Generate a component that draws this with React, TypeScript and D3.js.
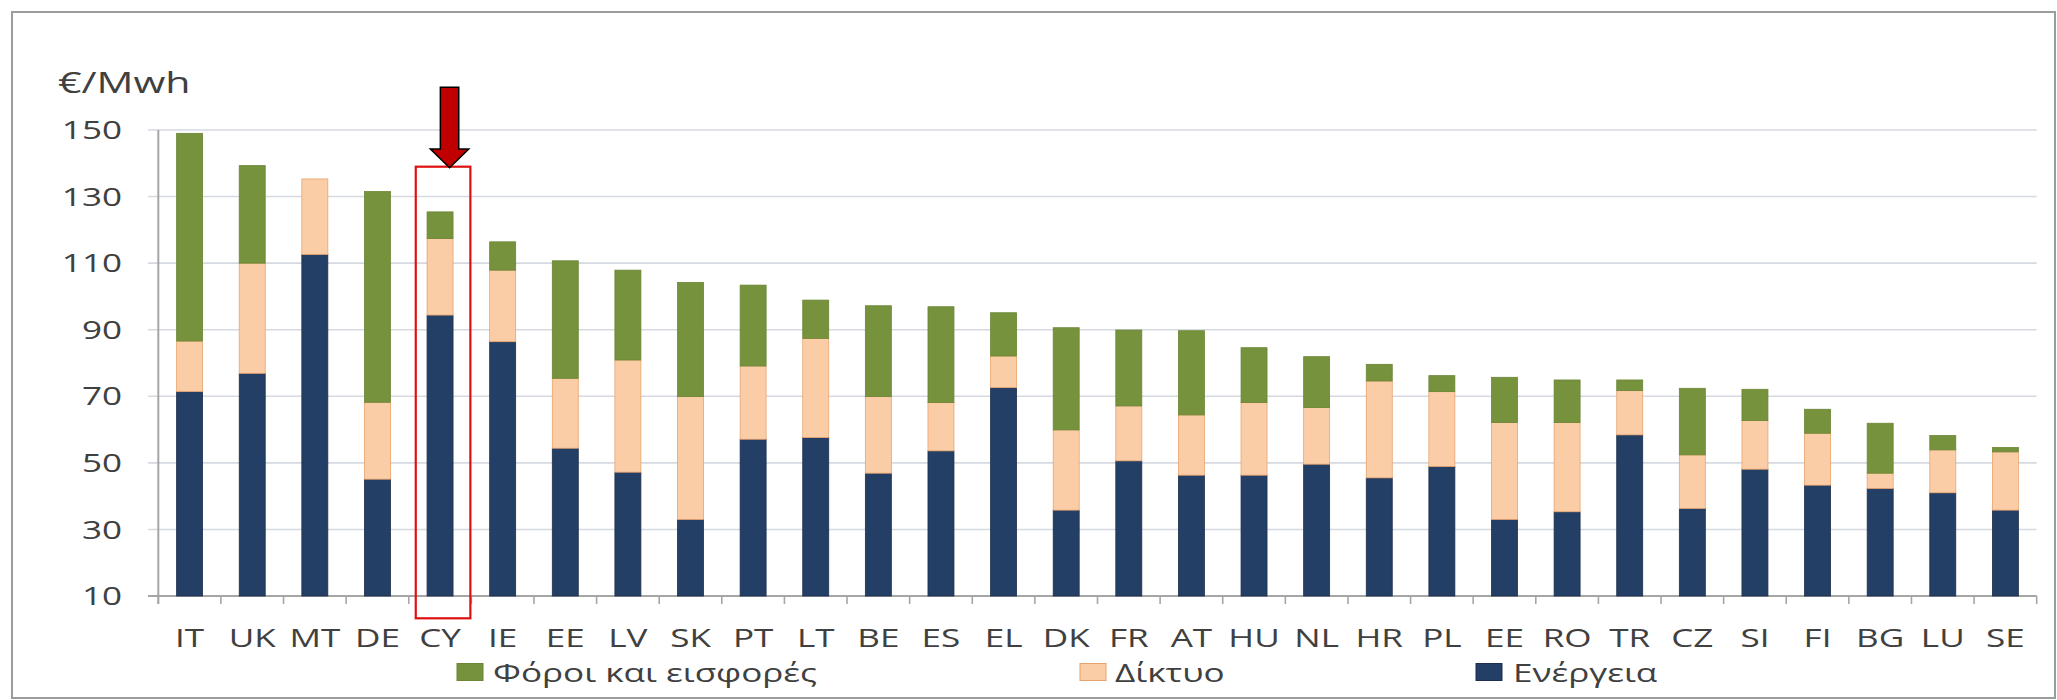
import React from "react";
import * as d3 from "d3";

const categories = ["IT","UK","MT","DE","CY","IE","EE","LV","SK","PT","LT","BE","ES","EL","DK","FR","AT","HU","NL","HR","PL","EE","RO","TR","CZ","SI","FI","BG","LU","SE"];
const energy = [71.4,76.9,112.6,45.1,94.4,86.4,54.4,47.2,33.0,57.1,57.6,46.9,53.6,72.6,35.8,50.6,46.3,46.3,49.6,45.5,48.9,33.0,35.3,58.4,36.3,48.1,43.3,42.3,41.0,35.8];
const network = [15.2,33.1,22.7,23.1,23.0,21.5,21.0,33.7,36.9,22.0,29.8,23.0,14.5,9.5,24.1,16.5,18.1,21.8,17.0,29.1,22.5,29.1,26.8,13.3,16.1,14.6,15.6,4.6,12.9,17.5];
const taxes = [62.4,29.3,0,63.3,8.0,8.5,35.3,27.0,34.3,24.3,11.5,27.3,28.8,13.0,30.7,22.8,25.3,16.5,15.3,5.0,4.8,13.6,12.8,3.2,20.0,9.4,7.2,15.0,4.3,1.3];
const yTicks = [10,30,50,70,90,110,130,150];
const seriesKeys = ["energy","network","taxes"];
const seriesLabels = ["Ενέργεια","Δίκτυο","Φόροι και εισφορές"];
const unitLabel = "€/Mwh";
const highlighted = 4; // CY

const W = 2057, H = 700;
const SX = 1.37;
const FONT = "'Open Sans', 'DejaVu Sans', sans-serif";
const TEXT = "#404040";
const COLORS: Record<string, string> = { energy: "#243f66", network: "#fbcda7", taxes: "#76923c" };
const STROKES: Record<string, string> = { energy: "#1c2f4d", network: "#e8a46e", taxes: "#6a8535" };

function T({ x, y, anchor = "start", size = 25.6, children, fill = TEXT }: any) {
  return (
    <text transform={`translate(${x},${y}) scale(${SX},1)`} textAnchor={anchor}
      fontFamily={FONT} fontSize={size} fill={fill}>{children}</text>
  );
}

export default function App() {
  const x0 = 158.3, x1 = 2036.7;
  const x = d3.scaleBand<number>().domain(categories.map((_, i) => i)).range([x0, x1]);
  const y = d3.scaleLinear().domain([10, 150]).range([596, 130]);
  const bw = x.bandwidth();
  const barW = bw * 0.415;
  const rows = categories.map((c, i) => ({ i, energy: energy[i], network: network[i], taxes: taxes[i] }));
  const stacked = d3.stack<any>().keys(seriesKeys)(rows);

  const cyC = (x(highlighted) as number) + bw / 2;
  const ax = cyC + 9.5;
  const arrowPts = [
    [ax - 9.2, 87.3], [ax + 9.2, 87.3], [ax + 9.2, 149], [ax + 19.2, 149],
    [ax, 167.7], [ax - 19.2, 149], [ax - 9.2, 149],
  ].map(p => p.join(",")).join(" ");

  const legend = [
    { key: "taxes", label: seriesLabels[2], sx: 457, tx: 493 },
    { key: "network", label: seriesLabels[1], sx: 1080, tx: 1115 },
    { key: "energy", label: seriesLabels[0], sx: 1476, tx: 1513 },
  ];

  return (
    <svg width={W} height={H} style={{ position: "fixed", left: 0, top: 0, background: "#fff" }}>
      <rect x={0} y={0} width={W} height={H} fill="#fff" />
      <rect x={12} y={12} width={2043} height={686} fill="#fff" stroke="#9c9c9c" strokeWidth={2} />
      {/* gridlines */}
      {yTicks.map(t => (
        <g key={t}>
          <line x1={148} x2={x1} y1={y(t)} y2={y(t)} stroke={t === 10 ? "#a6a6a6" : "#d5d9e0"} strokeWidth={t === 10 ? 2 : 1.6} />
          <T x={122} y={y(t) + 9.2} anchor="end">{t}</T>
        </g>
      ))}
      {/* y axis */}
      <line x1={x0} x2={x0} y1={130} y2={604} stroke="#a6a6a6" strokeWidth={2} />
      {/* x ticks */}
      {d3.range(categories.length + 1).map(k => {
        const xx = x0 + k * bw;
        return <line key={k} x1={xx} x2={xx} y1={596} y2={604} stroke="#a6a6a6" strokeWidth={1.6} />;
      })}
      {/* bars */}
      {stacked.map(s => (
        <g key={s.key}>
          {s.map((d: any, i: number) => {
            const lo = Math.max(d[0], 10), hi = d[1];
            if (hi - lo <= 0) return null;
            const cx = (x(i) as number) + bw / 2;
            return (
              <rect key={i} x={cx - barW / 2} y={y(hi)} width={barW} height={y(lo) - y(hi)}
                fill={COLORS[s.key]} stroke={STROKES[s.key]} strokeWidth={0.8} />
            );
          })}
        </g>
      ))}
      {/* x labels */}
      {categories.map((c, i) => (
        <T key={i} x={(x(i) as number) + bw / 2} y={646.5} anchor="middle">{c}</T>
      ))}
      {/* unit label */}
      <T x={58} y={93} size={30}>{unitLabel}</T>
      {/* highlight box */}
      <rect x={(x(highlighted) as number) + 7} y={166.7} width={bw - 8} height={451.6}
        fill="none" stroke="#e01010" strokeWidth={2.2} />
      {/* arrow */}
      <polygon points={arrowPts} fill="#c00000" stroke="#000" strokeWidth={1.5} strokeLinejoin="miter" />
      {/* legend */}
      {legend.map(l => (
        <g key={l.key}>
          <rect x={l.sx} y={663.5} width={26} height={17} fill={COLORS[l.key]} stroke={STROKES[l.key]} strokeWidth={1} />
          <T x={l.tx} y={682}>{l.label}</T>
        </g>
      ))}
    </svg>
  );
}
